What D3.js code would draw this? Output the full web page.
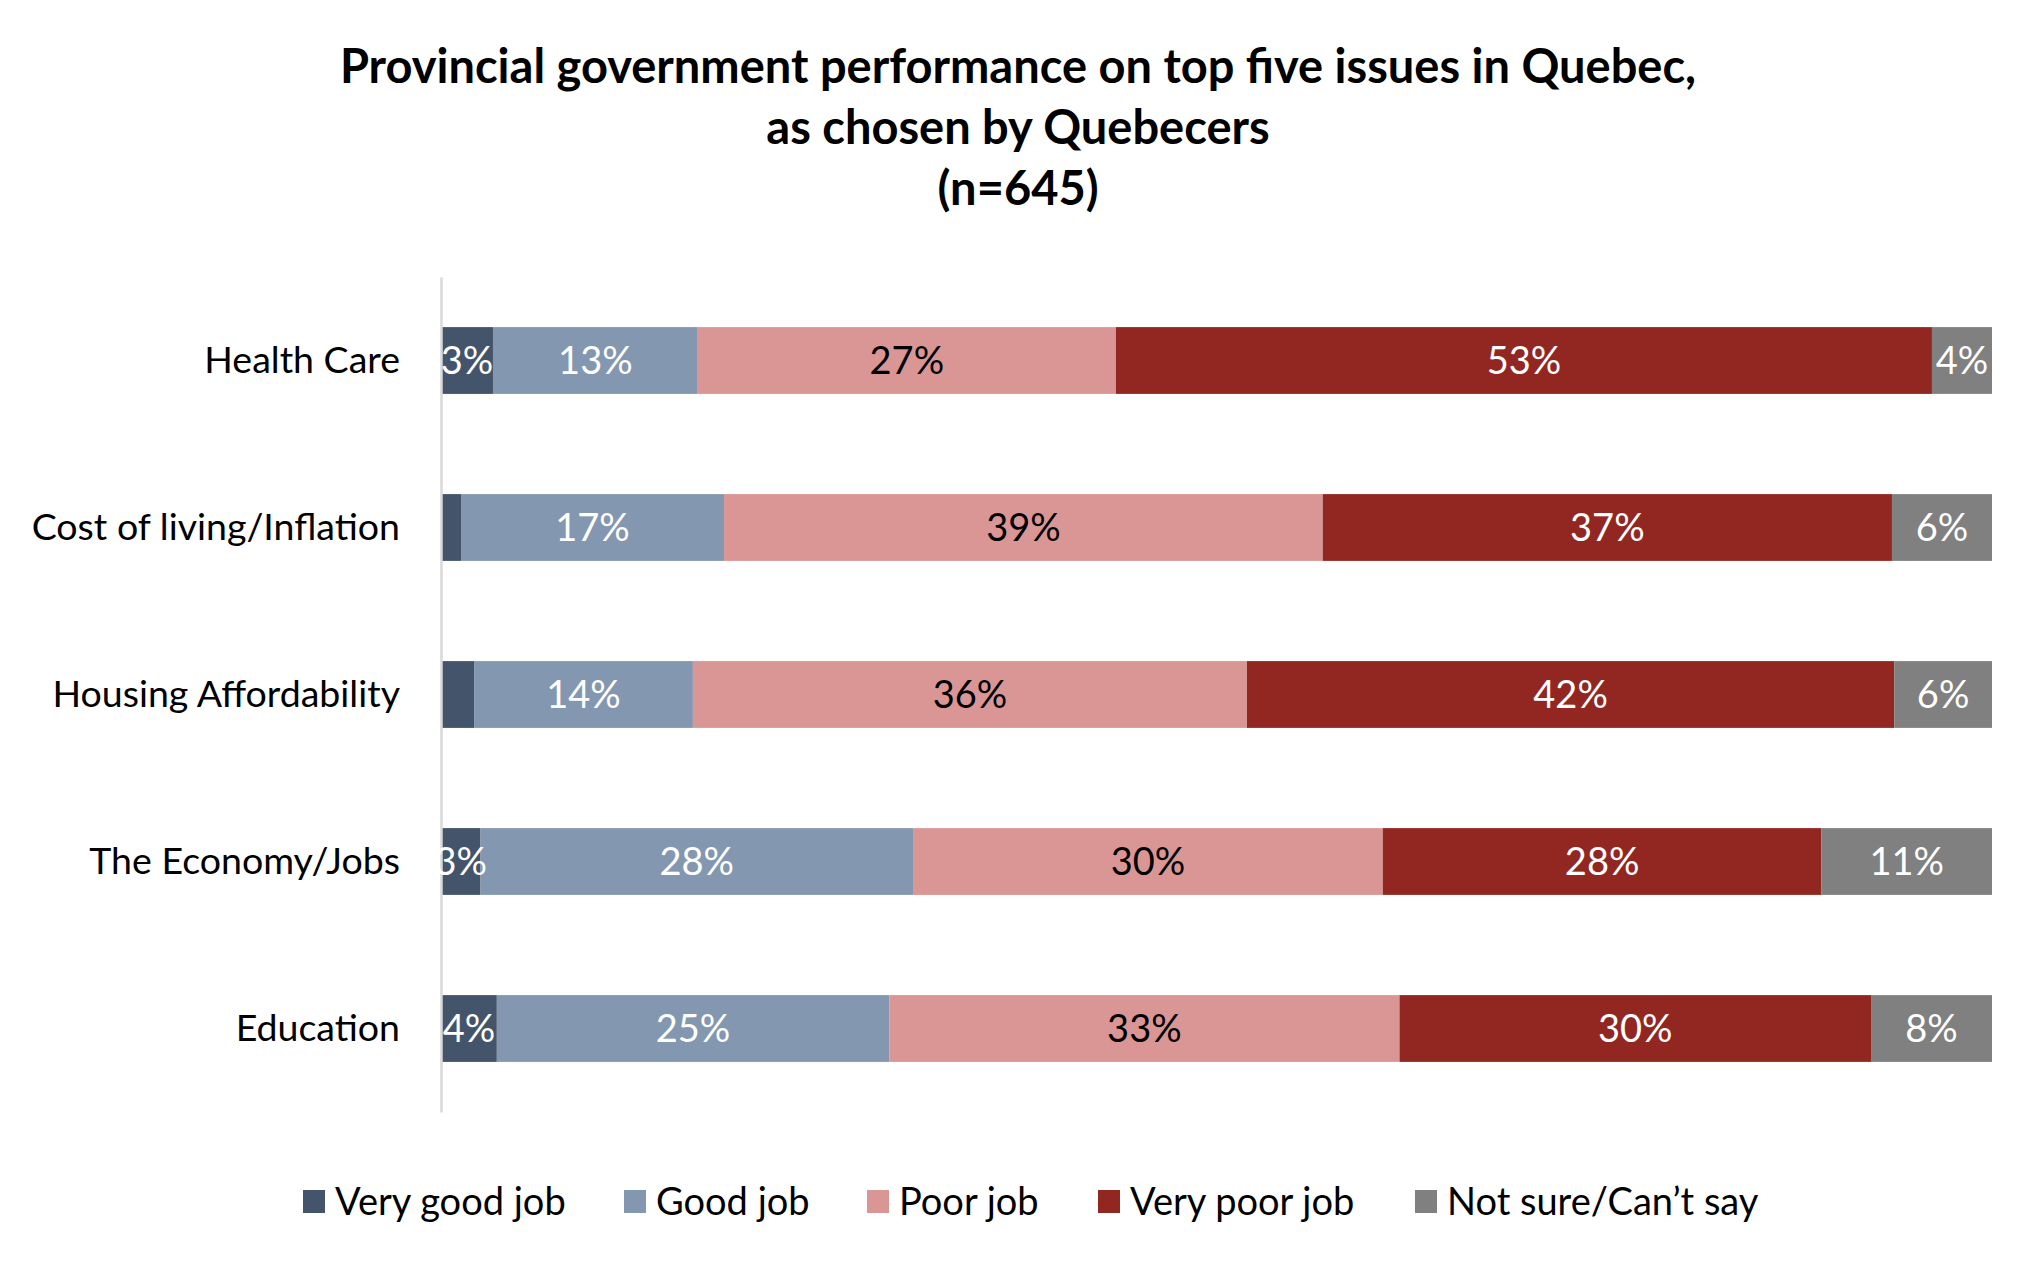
<!DOCTYPE html>
<html>
<head>
<meta charset="utf-8">
<script src="https://cdn.jsdelivr.net/npm/d3@7"></script>
<style>
  body { margin: 0; background: #fff; }
  text { font-family: Lato, "Open Sans", sans-serif; }
  .title { font-weight: bold; font-size: 47px; fill: #000; }
  .catLabel { font-size: 37.5px; fill: #000; }
  .valueLabel { font-size: 38px; }
  .legendText { font-size: 38px; fill: #000; }
</style>
</head>
<body>
<div id="chart"></div>
<script>

// DATA (percent of respondents)
const categories = ["Health Care", "Cost of living/Inflation", "Housing Affordability", "The Economy/Jobs", "Education"];
const seriesNames = ["Very good job", "Good job", "Poor job", "Very poor job", "Not sure/Can\u2019t say"];

const veryGood = [3.35, 1.29, 2.13, 2.55, 3.6];
const good     = [13.2, 16.96, 14.1, 27.9, 25.3];
const poor     = [26.95, 38.6, 35.7, 30.3, 32.9];
const veryPoor = [52.6, 36.7, 41.7, 28.3, 30.4];
const notSure  = [3.87, 6.45, 6.3, 11.0, 7.8];

const colors = ["#44546a", "#8497b0", "#da9694", "#922722", "#808080"];
const labelColors = ["#fff", "#fff", "#000", "#fff", "#fff"];

const titleLines = ["Provincial government performance on top five issues in Quebec,", "as chosen by Quebecers", "(n=645)"];

//SETUP
var width = 2044;
var height = 1269;

const margin = {top: 277, right: 52, bottom: 157, left: 441};

let svg = d3.select("#chart").append("svg")
  .attr("width", width)
  .attr("height", height);

// build rows for the stack
let rows = categories.map((c, i) => {
  let r = {category: c};
  r[seriesNames[0]] = veryGood[i];
  r[seriesNames[1]] = good[i];
  r[seriesNames[2]] = poor[i];
  r[seriesNames[3]] = veryPoor[i];
  r[seriesNames[4]] = notSure[i];
  return r;
});

// 100% stacked, like the original
let stacked = d3.stack()
  .keys(seriesNames)
  .offset(d3.stackOffsetExpand)(rows);

let x = d3.scaleLinear()
  .domain([0, 1])
  .range([margin.left, width - margin.right]);

let y = d3.scaleBand()
  .domain(categories)
  .range([margin.top, height - margin.bottom])
  .paddingInner(0.6)
  .paddingOuter(0.3);

//Title
svg.selectAll("text.title")
  .data(titleLines)
  .enter()
  .append("text")
  .attr("class", "title")
  .attr("x", 1018)
  .attr("y", (d, i) => 83 + i * 61)
  .style("text-anchor", "middle")
  .text(d => d);

//Bars
let groups = svg.selectAll("g.series")
  .data(stacked)
  .enter()
  .append("g")
  .attr("class", "series")
  .style("fill", (d, i) => colors[i]);

groups.selectAll("rect")
  .data(d => d)
  .enter()
  .append("rect")
  .attr("x", d => x(d[0]))
  .attr("y", d => y(d.data.category))
  .attr("width", d => x(d[1]) - x(d[0]))
  .attr("height", y.bandwidth());

//Axis line on the left (no ticks)
let yAxis = d3.axisLeft(y).tickSize(0).tickPadding(41);

let axisG = svg.append("g")
  .attr("transform", `translate(${margin.left}, 0)`)
  .call(yAxis);

axisG.select(".domain")
  .attr("stroke", "#d9d9d9")
  .attr("stroke-width", 2.5);

axisG.selectAll(".tick text")
  .attr("class", "catLabel")
  .attr("font-size", null)
  .attr("font-family", null);

//Value labels (slivers of 2% or less were left unlabelled)
stacked.forEach((s, si) => {
  svg.selectAll("text.v" + si)
    .data(s.filter(d => Math.round(d.data[s.key]) > 2))
    .enter()
    .append("text")
    .attr("class", "valueLabel v" + si)
    .attr("x", d => (x(d[0]) + x(d[1])) / 2)
    .attr("y", d => y(d.data.category) + y.bandwidth() / 2)
    .attr("dy", "0.36em")
    .style("text-anchor", "middle")
    .style("fill", labelColors[si])
    .text(d => Math.round(d.data[s.key]) + "%");
});

//Legend
const legendX = [303, 624, 867, 1098, 1415];

let legend = svg.selectAll("g.legend")
  .data(seriesNames)
  .enter()
  .append("g")
  .attr("class", "legend")
  .attr("transform", (d, i) => `translate(${legendX[i]}, 1190)`);

legend.append("rect")
  .attr("width", 22)
  .attr("height", 23)
  .style("fill", (d, i) => colors[i]);

legend.append("text")
  .attr("class", "legendText")
  .attr("x", 32)
  .attr("y", 11.5)
  .attr("dy", "0.36em")
  .text(d => d);

</script>
</body>
</html>
